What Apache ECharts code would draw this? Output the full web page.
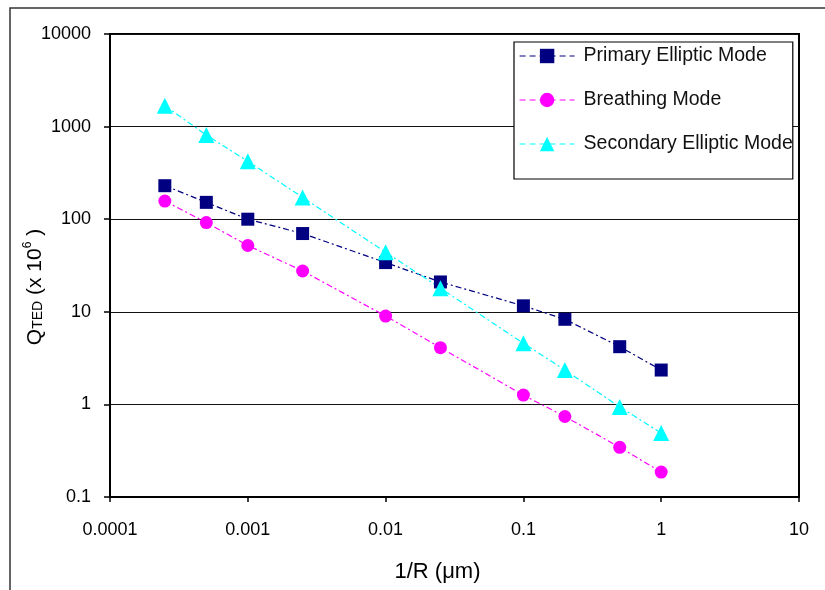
<!DOCTYPE html>
<html>
<head>
<meta charset="utf-8">
<script src="https://cdn.jsdelivr.net/npm/echarts@6/dist/echarts.min.js"></script>
<style>
  html, body { margin: 0; padding: 0; background: #fff; }
  #chart { width: 825px; height: 590px; }
</style>
</head>
<body>
<div id="chart"></div>
<script>
// Inverse radius 1/R (µm^-1)
const invRadius = [0.00025, 0.0005, 0.001, 0.0025, 0.01, 0.025, 0.1, 0.2, 0.5, 1];

// Q_TED (x 10^6) for each mode
const primaryElliptic   = [230, 152, 100, 70, 34, 21, 11.6, 8.3, 4.2, 2.35];
const breathing         = [157, 92, 52, 27.6, 9.0, 4.1, 1.26, 0.74, 0.344, 0.186];
const secondaryElliptic = [1680, 811, 422, 172, 44, 18, 4.57, 2.35, 0.94, 0.49];

const seriesNames = ['Primary Elliptic Mode', 'Breathing Mode', 'Secondary Elliptic Mode'];

const xTickLabels = ['0.0001', '0.001', '0.01', '0.1', '1', '10'];
const yTickLabels = ['0.1', '1', '10', '100', '1000', '10000'];

const FONT = 'Liberation Sans, Arial, sans-serif';

function pairs(xs, ys) {
  return xs.map((x, i) => [x, ys[i]]);
}

function labelFor(list, minExp) {
  return v => {
    const k = Math.round(Math.log10(v)) - minExp;
    return list[k] !== undefined ? list[k] : '';
  };
}

function makeSeries(name, values, color, symbol, size) {
  return {
    name: name,
    type: 'line',
    data: pairs(invRadius, values),
    symbol: symbol,
    symbolSize: size,
    showAllSymbol: true,
    itemStyle: { color: color },
    lineStyle: { color: color, width: 1.2, type: [6, 3, 2, 3] },
    emphasis: { disabled: true },
    z: 3
  };
}

const chart = echarts.init(document.getElementById('chart'), null, { renderer: 'canvas' });

chart.setOption({
  backgroundColor: '#ffffff',
  animation: false,
  textStyle: { fontFamily: FONT },
  graphic: [{
    type: 'rect',
    shape: { x: 10, y: 8, width: 900, height: 700 },
    style: { fill: 'none', stroke: '#333', lineWidth: 1.5 },
    z: 0
  }],
  grid: {
    left: 110, top: 34, right: 26, bottom: 93,
    outerBoundsMode: 'none',
    containLabel: false,
    show: true,
    borderColor: '#000',
    borderWidth: 2,
    backgroundColor: '#fff'
  },
  legend: {
    data: seriesNames,
    orient: 'vertical',
    left: 514,
    top: 42,
    padding: [4, 0, 25, 5],
    itemWidth: 55,
    itemHeight: 18,
    itemGap: 24,
    backgroundColor: '#fff',
    borderColor: '#000',
    borderWidth: 1.2,
    lineStyle: { type: [6, 4], width: 1.2 },
    textStyle: { fontFamily: FONT, fontSize: 19.5, color: '#111', padding: [0, 0, 0, 4] }
  },
  xAxis: {
    type: 'log',
    logBase: 10,
    min: 0.0001,
    max: 10,
    name: '1/R (\u03bcm)',
    nameLocation: 'middle',
    nameGap: 64,
    nameMoveOverlap: false,
    nameTextStyle: { fontFamily: FONT, fontSize: 22, color: '#000', padding: [0, 34, 0, 0] },
    axisLine: { lineStyle: { color: '#000', width: 2 } },
    axisTick: { show: true, inside: false, length: 5, lineStyle: { color: '#000', width: 1.5 } },
    minorTick: { show: false },
    splitLine: { show: false },
    axisLabel: {
      margin: 24,
      fontFamily: FONT,
      fontSize: 18,
      color: '#000',
      formatter: labelFor(xTickLabels, -4)
    }
  },
  yAxis: {
    type: 'log',
    logBase: 10,
    min: 0.1,
    max: 10000,
    name: '{q|Q}{s|TED}{n| (x 10}{sup|6}{n| )}',
    nameLocation: 'middle',
    nameGap: 62,
    nameRotate: 90,
    nameMoveOverlap: false,
    nameTextStyle: {
      padding: [0, 43, 0, 0],
      rich: {
        q:   { fontFamily: FONT, fontSize: 21, color: '#000', lineHeight: 26, verticalAlign: 'middle' },
        s:   { fontFamily: FONT, fontSize: 14, color: '#000', lineHeight: 26, verticalAlign: 'bottom', padding: [0, 0, 3, 0] },
        n:   { fontFamily: FONT, fontSize: 21, color: '#000', lineHeight: 26, verticalAlign: 'middle' },
        sup: { fontFamily: FONT, fontSize: 12, color: '#000', lineHeight: 26, verticalAlign: 'top' }
      }
    },
    axisLine: { lineStyle: { color: '#000', width: 2 } },
    axisTick: { show: true, inside: false, length: 6, lineStyle: { color: '#000', width: 1.5 } },
    minorTick: { show: false },
    splitLine: { show: true, lineStyle: { color: '#111', width: 1.2 } },
    axisLabel: {
      margin: 19,
      fontFamily: FONT,
      fontSize: 18,
      color: '#000',
      formatter: labelFor(yTickLabels, -1)
    }
  },
  series: [
    makeSeries(seriesNames[0], primaryElliptic, '#000080', 'rect', 13),
    makeSeries(seriesNames[1], breathing, '#ff00ff', 'circle', 13),
    makeSeries(seriesNames[2], secondaryElliptic, '#00ffff', 'triangle', 16)
  ]
});
</script>
</body>
</html>
